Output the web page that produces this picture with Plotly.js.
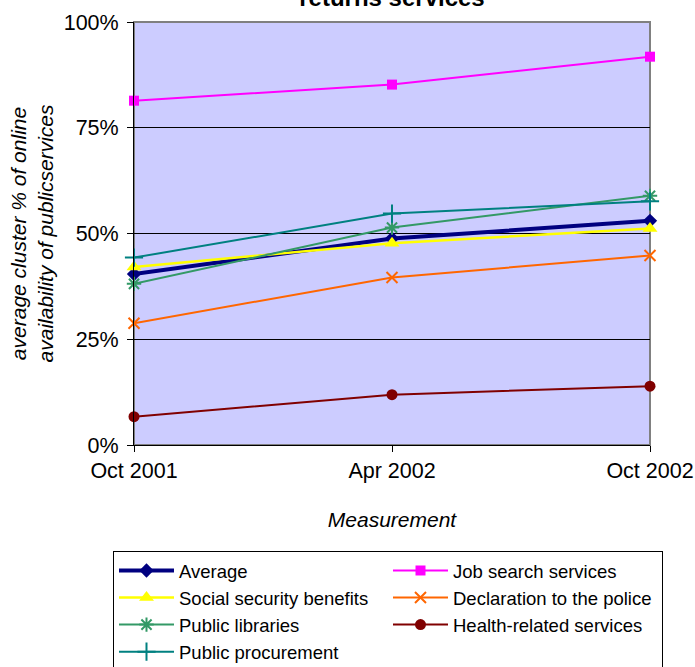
<!DOCTYPE html>
<html>
<head>
<meta charset="utf-8">
<script src="https://cdn.plot.ly/plotly-3.0.1.min.js"></script>
<style>
  html, body { margin: 0; padding: 0; background: #fff; }
  #chart { width: 695px; height: 667px; }
</style>
</head>
<body>
<div id="chart"></div>
<script>
// Measurement rounds (x categories)
const measurements = ["Oct 2001", "Apr 2002", "Oct 2002"];

// Average cluster % of online availability, per service cluster
const average            = [40.4, 48.8, 53.0];
const jobSearch          = [81.4, 85.2, 91.8];
const socialSecurity     = [42.1, 47.7, 51.2];
const policeDeclaration  = [28.8, 39.6, 44.8];
const publicLibraries    = [38.1, 51.4, 58.9];
const healthServices     = [6.7, 11.9, 13.9];
const publicProcurement  = [44.3, 54.7, 57.6];

// Series names shown in the legend
const seriesNames = [
  "Average",
  "Job search services",
  "Social security benefits",
  "Declaration to the police",
  "Public libraries",
  "Health-related services",
  "Public procurement"
];

// Y-axis ticks and their labels
const yTickValues = [0, 25, 50, 75, 100];
const yTickLabels = ["0%", "25%", "50%", "75%", "100%"];

const FONT = "Liberation Sans, Arial, sans-serif";

function series(name, values, color, lineWidth, symbol, size, thin) {
  const marker = { symbol: symbol, size: size, color: color };
  if (thin) marker.line = { color: color, width: 2 };
  return {
    type: "scatter",
    mode: "lines+markers",
    name: name,
    x: measurements,
    y: values,
    cliponaxis: false,
    line: { color: color, width: lineWidth },
    marker: marker,
    hoverinfo: "name+y"
  };
}

const traces = [
  series(seriesNames[0], average,           "#000080", 4,   "diamond",     11, false),
  series(seriesNames[1], jobSearch,         "#FF00FF", 2,   "square",      10, false),
  series(seriesNames[2], socialSecurity,    "#FFFF00", 2.5, "triangle-up", 13, false),
  series(seriesNames[3], policeDeclaration, "#FF6600", 2,   "x-thin",      11, true),
  series(seriesNames[4], publicLibraries,   "#339966", 2,   "asterisk",    12, true),
  series(seriesNames[5], healthServices,    "#800000", 2,   "circle",      11, false),
  series(seriesNames[6], publicProcurement, "#008080", 2,   "cross-thin",  13, true)
];

const layout = {
  width: 695,
  height: 667,
  margin: { l: 134, r: 45, t: 22, b: 222, autoexpand: false },
  paper_bgcolor: "#ffffff",
  plot_bgcolor: "#CCCCFF",
  font: { family: FONT, size: 21, color: "#000" },
  title: {
    text: "<b>returns services</b>",
    font: { family: FONT, size: 24, color: "#000" },
    xref: "paper", x: 0.5, xanchor: "center",
    yref: "container", y: 0.991, yanchor: "bottom"
  },
  xaxis: {
    type: "category",
    range: [0, 2],
    showgrid: false,
    zeroline: false,
    showline: true,
    linecolor: "#000",
    linewidth: 1,
    ticks: "outside",
    ticklen: 6,
    tickcolor: "#000",
    tickfont: { family: FONT, size: 21.5, color: "#000" },
    title: {
      text: "<i>Measurement</i>",
      font: { family: FONT, size: 21, color: "#000" },
      standoff: 30
    }
  },
  yaxis: {
    range: [0, 100],
    tickmode: "array",
    tickvals: yTickValues,
    ticktext: yTickLabels,
    showgrid: true,
    gridcolor: "#000",
    gridwidth: 1,
    zeroline: false,
    showline: true,
    linecolor: "#000",
    linewidth: 1,
    ticks: "outside",
    ticklen: 6,
    ticklabelstandoff: 4,
    tickcolor: "#000",
    tickfont: { family: FONT, size: 21.5, color: "#000" },
    title: {
      text: "<i>average cluster % of online<br>availability of publicservices</i>",
      font: { family: FONT, size: 21, color: "#000" },
      standoff: 4
    }
  },
  shapes: [{
    // grey frame of the plot area (top and right edges)
    type: "rect",
    xref: "x domain", yref: "y domain",
    x0: 0, x1: 1, y0: 0, y1: 1,
    line: { color: "#808080", width: 2 },
    fillcolor: "rgba(0,0,0,0)",
    layer: "below"
  }],
  showlegend: true,
  legend: {
    orientation: "h",
    xref: "paper", yref: "paper",
    x: -0.0407, xanchor: "left",
    y: -0.2505, yanchor: "top",
    bgcolor: "#ffffff",
    bordercolor: "#000",
    borderwidth: 1,
    itemwidth: 55,
    entrywidth: 204,
    traceorder: "normal",
    font: { family: FONT, size: 18.5, color: "#000" }
  }
};

Plotly.newPlot("chart", traces, layout, { displayModeBar: false, staticPlot: true });
</script>
</body>
</html>
